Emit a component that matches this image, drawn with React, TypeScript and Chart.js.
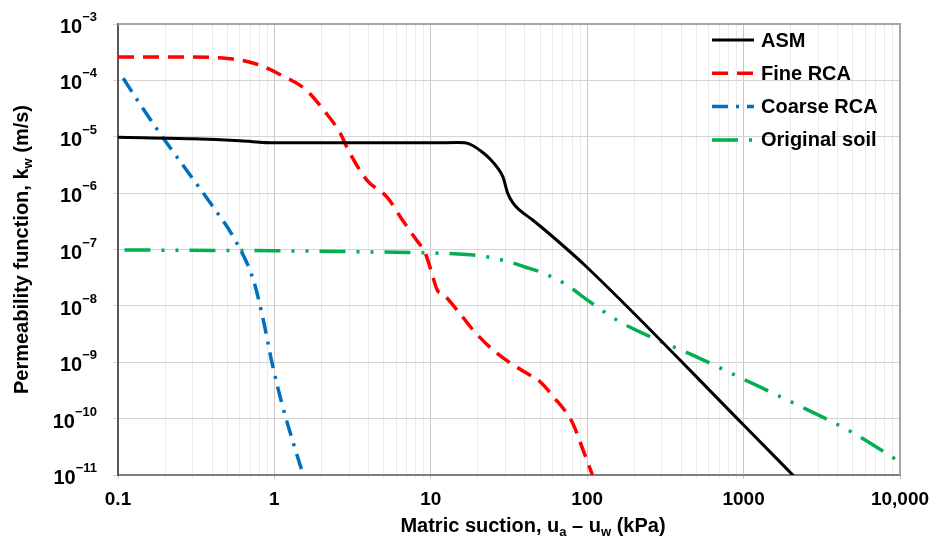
import React, { useEffect, useRef } from "react";
import { Chart, registerables } from "chart.js";

Chart.register(...registerables);

const FONT = '"Liberation Sans", Arial, sans-serif';

// matric suction (kPa) and permeability (m/s)
const asmSuction = [0.1, 0.3, 0.6, 1, 3, 10, 15, 16.5, 18.5, 21.6, 24, 26.5, 29, 31, 33.5, 37, 45, 60, 100, 1000, 2100];
const asmK = [9.8e-6, 9.2e-6, 8.5e-6, 7.8e-6, 7.8e-6, 7.8e-6, 7.9e-6, 7.8e-6, 7.0e-6, 5.2e-6, 4.0e-6, 2.9e-6, 1.9e-6, 1.0e-6, 6.7e-7, 5e-7, 3.3e-7, 1.7e-7, 4.8e-8, 7.7e-11, 9.5e-12];

const fineSuction = [0.1, 0.3, 0.5, 0.65, 0.81, 1.04, 1.6, 2.1, 2.63, 2.96, 3.9, 5.25, 6.6, 8.1, 9.2, 10, 11, 12, 14.7, 19, 25, 33.5, 45, 50, 62, 78, 83, 94, 108];
const fineK = [2.6e-4, 2.6e-4, 2.45e-4, 2.2e-4, 1.85e-4, 1.35e-4, 6.7e-5, 2.8e-5, 1.17e-5, 5.9e-6, 1.7e-6, 8.5e-7, 3.3e-7, 1.47e-7, 8.7e-8, 4.4e-8, 1.9e-8, 1.6e-8, 8.5e-9, 3.5e-9, 1.65e-9, 9e-10, 5.5e-10, 4.5e-10, 2.3e-10, 1e-10, 7e-11, 2.8e-11, 1e-11];

const coarseSuction = [0.108, 0.135, 0.192, 0.279, 0.397, 0.56, 0.733, 0.849, 0.962, 1.114, 1.32, 1.53];
const coarseK = [1.09e-4, 4.2e-5, 1e-5, 2.4e-6, 6.2e-7, 1.48e-7, 2.9e-8, 5.65e-9, 1.02e-9, 1.9e-10, 3.7e-11, 1.0e-11];

const soilSuction = [0.11, 1, 5, 10, 15, 21, 30, 40, 52, 74, 100, 160, 300, 500, 1000, 2000, 5000, 10000];
const soilK = [9.8e-8, 9.5e-8, 9e-8, 8.7e-8, 8.3e-8, 7.7e-8, 6.3e-8, 4.9e-8, 3.85e-8, 2.35e-8, 1.28e-8, 5.3e-9, 2.3e-9, 1.25e-9, 5e-10, 2.0e-10, 5.6e-11, 1.7e-11];

const seriesNames = ["ASM", "Fine RCA", "Coarse RCA", "Original soil"];

// axis ticks
const xDecades = [0.1, 1, 10, 100, 1000, 10000];
const xTickLabels = ["0.1", "1", "10", "100", "1000", "10,000"];
const yExponents = [-11, -10, -9, -8, -7, -6, -5, -4, -3];

const toPoints = (xs: number[], ys: number[]) => xs.map((x, i) => ({ x, y: ys[i] }));

type Seg = { text: string; size: number; dy?: number };

function drawRich(ctx: CanvasRenderingContext2D, segs: Seg[], x: number, y: number, align: "left" | "right" | "center") {
  const widths = segs.map((s) => {
    ctx.font = `bold ${s.size}px ${FONT}`;
    return ctx.measureText(s.text).width;
  });
  const total = widths.reduce((a, b) => a + b, 0);
  let cx = align === "left" ? x : align === "right" ? x - total : x - total / 2;
  ctx.textAlign = "left";
  ctx.textBaseline = "alphabetic";
  segs.forEach((s, i) => {
    ctx.font = `bold ${s.size}px ${FONT}`;
    ctx.fillText(s.text, cx, y + (s.dy ?? 0));
    cx += widths[i];
  });
}

const decorations = {
  id: "decorations",
  afterDraw(chart: any) {
    const { ctx, chartArea: a, scales } = chart;
    ctx.save();

    // top and right frame
    ctx.strokeStyle = "#a6a6a6";
    ctx.lineWidth = 2;
    ctx.beginPath();
    ctx.moveTo(a.left, a.top);
    ctx.lineTo(a.right, a.top);
    ctx.lineTo(a.right, a.bottom);
    ctx.stroke();

    ctx.fillStyle = "#000";
    // y tick labels with superscripts
    yExponents.forEach((e) => {
      const py = scales.y.getPixelForValue(Math.pow(10, e));
      drawRich(ctx, [
        { text: "10", size: 20 },
        { text: "\u2212" + Math.abs(e), size: 13, dy: -12 },
      ], 97, py + 9, "right");
    });

    // axis titles
    drawRich(ctx, [
      { text: "Matric suction, u", size: 20 },
      { text: "a", size: 13, dy: 4 },
      { text: " \u2013 u", size: 20 },
      { text: "w", size: 13, dy: 4 },
      { text: " (kPa)", size: 20 },
    ], 533, 532, "center");

    ctx.save();
    ctx.translate(28, (a.top + a.bottom) / 2);
    ctx.rotate(-Math.PI / 2);
    drawRich(ctx, [
      { text: "Permeability function, k", size: 20 },
      { text: "w", size: 13, dy: 4 },
      { text: " (m/s)", size: 20 },
    ], 0, 0, "center");
    ctx.restore();

    // legend
    chart.data.datasets.forEach((ds: any, i: number) => {
      const ly = a.top + 16 + i * 33.3;
      ctx.save();
      ctx.strokeStyle = ds.borderColor;
      ctx.lineWidth = ds.borderWidth;
      ctx.setLineDash(ds.borderDash || []);
      ctx.beginPath();
      ctx.moveTo(a.right - 188, ly);
      ctx.lineTo(a.right - 146, ly);
      ctx.stroke();
      ctx.restore();
      ctx.fillStyle = "#000";
      ctx.font = `bold 20px ${FONT}`;
      ctx.textAlign = "left";
      ctx.textBaseline = "middle";
      ctx.fillText(ds.label, a.right - 139, ly + 1);
    });

    ctx.restore();
  },
};

const isDecade = (v: number) => Math.abs(Math.log10(v) - Math.round(Math.log10(v))) < 1e-6;

const App: React.FC = () => {
  const canvasRef = useRef<HTMLCanvasElement>(null);

  useEffect(() => {
    if (!canvasRef.current) return;
    Chart.defaults.font.family = FONT;

    const chart = new Chart(canvasRef.current, {
      type: "line",
      data: {
        datasets: [
          {
            label: seriesNames[0],
            data: toPoints(asmSuction, asmK),
            borderColor: "#000000",
            borderWidth: 3,
          },
          {
            label: seriesNames[1],
            data: toPoints(fineSuction, fineK),
            borderColor: "#ff0000",
            borderWidth: 3.5,
            borderDash: [16, 9],
          },
          {
            label: seriesNames[2],
            data: toPoints(coarseSuction, coarseK),
            borderColor: "#0070c0",
            borderWidth: 3.5,
            borderDash: [16, 8, 3, 8],
          },
          {
            label: seriesNames[3],
            data: toPoints(soilSuction, soilK),
            borderColor: "#00b050",
            borderWidth: 3.5,
            borderDash: [26, 11, 3, 11, 3, 11],
          },
        ],
      },
      options: {
        animation: false,
        responsive: true,
        maintainAspectRatio: false,
        layout: { padding: { top: 24, right: 41, left: 0, bottom: 0 } },
        elements: {
          point: { radius: 0 },
          line: { cubicInterpolationMode: "monotone", borderCapStyle: "butt" },
        },
        plugins: {
          legend: { display: false },
          tooltip: { enabled: false },
        },
        scales: {
          x: {
            type: "logarithmic",
            min: 0.1,
            max: 10000,
            afterBuildTicks: (scale: any) => {
              const ticks: { value: number }[] = [];
              xDecades.forEach((d, i) => {
                ticks.push({ value: d });
                if (i < xDecades.length - 1) {
                  for (let m = 2; m <= 9; m++) ticks.push({ value: d * m });
                }
              });
              scale.ticks = ticks;
            },
            afterFit: (scale: any) => {
              scale.height = 73;
            },
            ticks: {
              autoSkip: false,
              maxRotation: 0,
              padding: 9,
              color: "#000",
              font: { size: 19, weight: "bold" },
              callback: (value: any) => {
                const i = xDecades.findIndex((d) => Math.abs(d - Number(value)) < d * 1e-9);
                return i >= 0 ? xTickLabels[i] : "";
              },
            },
            grid: {
              color: (c: any) => (c.tick && isDecade(c.tick.value) ? "#c8c8c8" : "#ebebeb"),
              lineWidth: 1,
              tickLength: 4,
            },
            border: { color: "#808080", width: 2 },
          },
          y: {
            type: "logarithmic",
            min: 1e-11,
            max: 1e-3,
            afterBuildTicks: (scale: any) => {
              scale.ticks = yExponents.map((e) => ({ value: Math.pow(10, e) }));
            },
            afterFit: (scale: any) => {
              scale.width = 118;
            },
            ticks: { display: false },
            grid: { color: "#d4d4d4", lineWidth: 1, tickLength: 5 },
            border: { color: "#595959", width: 2 },
          },
        },
      },
      plugins: [decorations],
    });

    return () => {
      chart.destroy();
    };
  }, []);

  return (
    <div style={{ position: "fixed", left: 0, top: 0, width: 941, height: 548, background: "#fff" }}>
      <canvas ref={canvasRef} />
    </div>
  );
};

export default App;
